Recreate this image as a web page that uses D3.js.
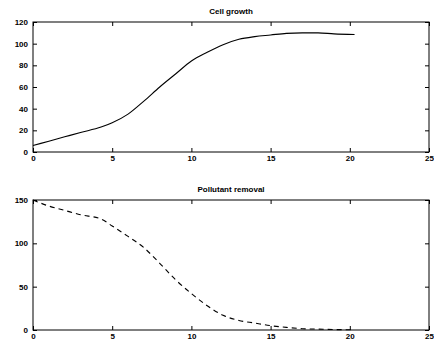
<!DOCTYPE html>
<html>
<head>
<meta charset="utf-8">
<script src="https://cdn.jsdelivr.net/npm/d3@7"></script>
<style>
  body { margin: 0; background: #fff; }
  svg text { font-family: "Liberation Sans", Arial, sans-serif; font-weight: bold; font-size: 8px; fill: #000; }
</style>
</head>
<body>
<svg id="chart" width="434" height="340"></svg>
<script>
// time values (shared x)
const timeVals = [0, 1, 2, 3, 4.3, 5, 6, 7, 8, 9, 10, 11, 12, 13, 14, 15, 16, 17, 18, 19, 20.3];
// cell growth
const cellVals = [6, 10, 14, 18, 23, 27, 35, 47, 60, 72, 84, 92, 99, 104, 106.5, 108, 109.5, 110, 110, 109, 108.5];
// pollutant removal
const pollVals = [150, 143, 138, 133, 128, 120, 108, 95, 77, 58, 42, 28, 17, 11, 8, 5, 3, 1.5, 1, 0.5, 0.3];

const xTicks = [0, 5, 10, 15, 20, 25];
const cellTicks = [0, 20, 40, 60, 80, 100, 120];
const pollTicks = [0, 50, 100, 150];

const svg = d3.select('#chart');

function drawPanel(opts) {
  const x = d3.scaleLinear().domain([0, 25]).range([33, 429]);
  const y = d3.scaleLinear().domain(opts.yDomain).range([opts.bottom, opts.top]);
  const g = svg.append('g');

  // frame
  g.append('rect')
    .attr('x', x(0)).attr('y', y(opts.yDomain[1]))
    .attr('width', x(25) - x(0)).attr('height', y(opts.yDomain[0]) - y(opts.yDomain[1]))
    .attr('fill', 'none').attr('stroke', '#000').attr('stroke-width', 1);

  // inward ticks, all four sides
  const bx = g.append('g').attr('transform', `translate(0,${opts.bottom})`)
    .call(d3.axisBottom(x).tickValues(xTicks).tickSizeInner(-4).tickSizeOuter(0).tickPadding(3));
  const tx = g.append('g').attr('transform', `translate(0,${opts.top})`)
    .call(d3.axisTop(x).tickValues(xTicks).tickSizeInner(-4).tickSizeOuter(0).tickFormat(''));
  const ly = g.append('g').attr('transform', `translate(${x(0)},0)`)
    .call(d3.axisLeft(y).tickValues(opts.yTicks).tickSizeInner(-4).tickSizeOuter(0).tickPadding(5));
  const ry = g.append('g').attr('transform', `translate(${x(25)},0)`)
    .call(d3.axisRight(y).tickValues(opts.yTicks).tickSizeInner(-4).tickSizeOuter(0).tickFormat(''));
  [bx, tx, ly, ry].forEach(a => {
    a.select('.domain').remove();
    a.selectAll('text').attr('font-size', null).attr('font-family', null);
  });

  // title
  g.append('text')
    .attr('x', (x(0) + x(25)) / 2)
    .attr('y', opts.top - 8)
    .attr('text-anchor', 'middle')
    .text(opts.title);

  const line = d3.line()
    .x((d, i) => x(timeVals[i]))
    .y(d => y(d))
    .curve(d3.curveMonotoneX);

  g.append('path')
    .datum(opts.values)
    .attr('fill', 'none')
    .attr('stroke', '#000')
    .attr('stroke-width', 1.1)
    .attr('stroke-dasharray', opts.dash)
    .attr('d', line);
}

drawPanel({ title: 'Cell growth', values: cellVals, yDomain: [0, 120], yTicks: cellTicks, top: 22, bottom: 152, dash: null });
drawPanel({ title: 'Pollutant removal', values: pollVals, yDomain: [0, 150], yTicks: pollTicks, top: 200, bottom: 330, dash: '5,4' });
</script>
</body>
</html>
